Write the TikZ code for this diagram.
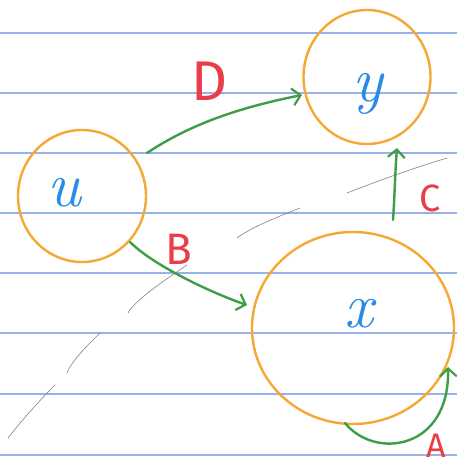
\documentclass[tikz,border=0pt]{standalone}
\usepackage{fontspec}
\setsansfont{Fira Sans}
\usetikzlibrary{shapes.geometric,arrows.meta,calc}
\definecolor{ruleblue}{RGB}{150,178,236}
\definecolor{ringorange}{RGB}{245,168,50}
\definecolor{arrgreen}{RGB}{62,158,72}
\definecolor{labred}{RGB}{232,62,72}
\definecolor{varblue}{RGB}{40,140,230}
\definecolor{pencil}{RGB}{130,130,130}
\tikzset{
  ring/.style={ellipse, draw=ringorange, line width=2.4pt, inner sep=0pt},
  vlabel/.style={text=varblue, inner sep=0pt, font=\fontsize{64}{64}\selectfont\itshape},
  elabel/.style={text=labred, inner sep=0pt, font=\sffamily},
  garrow/.style={draw=arrgreen, line width=2.4pt, line cap=round, -{Straight Barb[length=8pt,width=17pt,line width=2.2pt]}},
  ruled/.style={draw=ruleblue, line width=1.4pt},
  pencilline/.style={draw=pencil, line width=0.6pt, line cap=round}
}
\begin{document}
\begin{tikzpicture}[x=1pt,y=-1pt]
\useasboundingbox (0,0) rectangle (457,466);
\fill[white] (0,0) rectangle (457,466);
% ruled paper
\foreach \yy in {33,93,153,213,273,333,394,455}
  \draw[ruled] (0,\yy) -- (457,\yy);
% pencil marks
\draw[pencilline] (8,438) .. controls (22,420) and (40,400) .. (55,385);
\draw[pencilline] (67,373) .. controls (72,360) and (88,345) .. (100,333);
\draw[pencilline] (128,313) .. controls (135,300) and (165,280) .. (187,265);
\draw[pencilline] (237,238) .. controls (250,228) and (275,218) .. (300,208);
\draw[pencilline] (347,193) .. controls (380,180) and (420,166) .. (447,158);
% nodes
\node[ring, minimum width=128pt, minimum height=132pt] (u) at (82,196) {};
\node[ring, minimum width=127pt, minimum height=134pt] (y) at (367,77) {};
\node[ring, minimum width=202pt, minimum height=192pt] (x) at (353,328) {};
\node[vlabel] (ut) at (64,193) {u};
\node[vlabel] (yt) at (368,94) {y};
\node[vlabel] (xt) at (359,314) {x};
% edges
\draw[garrow] ($(u.center)+(65,-43)$) .. controls +(45,-30) and +(-60,12) .. ($(y.center)+(-65,18)$);
\draw[garrow] ($(u.center)+(48,46)$) .. controls +(25,25) and +(-30,-10) .. ($(x.center)+(-106,-23)$);
\draw[garrow] ($(x.center)+(40,-108)$) .. controls +(2,-30) and +(-2,25) .. ($(y.center)+(30,71)$);
\draw[garrow] ($(x.center)+(-8,95)$) .. controls +(30,37) and +(2,83) .. ($(x.center)+(95,39)$);
% edge labels
\node[elabel, font=\sffamily\fontsize{56}{56}\selectfont] (lD) at (210,81) {D};
\node[elabel, font=\sffamily\fontsize{44}{44}\selectfont] (lB) at (179,249) {B};
\node[elabel, font=\sffamily\fontsize{38}{38}\selectfont] (lC) at (430,198) {C};
\node[elabel, font=\sffamily\fontsize{34}{34}\selectfont] (lA) at (436,446) {A};
\end{tikzpicture}
\end{document}
